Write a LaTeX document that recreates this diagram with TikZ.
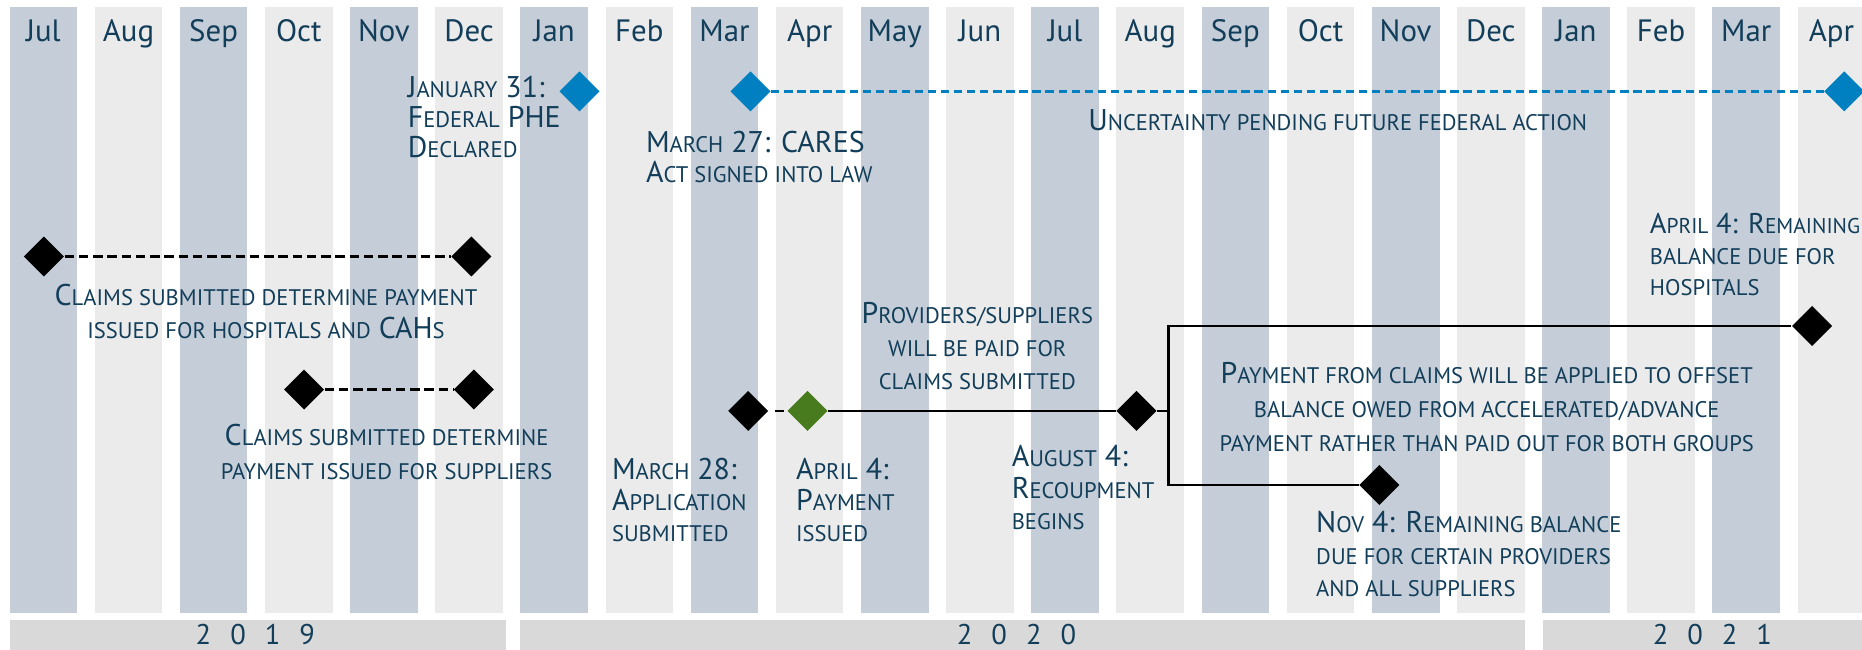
\documentclass[tikz,border=0pt]{standalone}
\usepackage{fontspec}
\setmainfont{PT Sans}
\usetikzlibrary{shapes.geometric}
\definecolor{txt}{RGB}{18,62,90}
\definecolor{colA}{RGB}{197,206,216}
\definecolor{colB}{RGB}{235,235,235}
\definecolor{yearbar}{RGB}{217,217,217}
\definecolor{bluedia}{RGB}{0,128,192}
\definecolor{greendia}{RGB}{72,122,30}
\newcommand\smc[1]{{\fontsize{9.5}{10}\selectfont\uppercase{#1}}}
\newcommand\smcb[1]{{\fontsize{9}{10}\selectfont\uppercase{#1}}}
\begin{document}
\begin{tikzpicture}[x=0.5pt,y=-0.5pt,
  dia/.style={diamond, aspect=1, minimum width=17pt, minimum height=17pt, inner sep=0pt, draw=none},
  bdia/.style={dia, fill=black},
  bldia/.style={dia, fill=bluedia},
  grdia/.style={dia, fill=greendia},
  lbl/.style={text=txt, inner sep=0pt, font=\fontsize{12.6}{13}\selectfont},
  month/.style={text=txt, inner sep=0pt, font=\fontsize{13}{15}\selectfont, anchor=base},
  yearlbl/.style={text=txt, inner sep=0pt, font=\fontsize{12}{14}\selectfont, anchor=base},
  bluedash/.style={draw=bluedia, line width=1pt, dash pattern=on 3.5pt off 2pt},
  blackdash/.style={draw=black, line width=0.9pt, dash pattern=on 4pt off 2pt},
  solidline/.style={draw=black, line width=0.9pt},
]
\useasboundingbox (0,0) rectangle (1568,547);
% month columns
\foreach \m [count=\i from 0] in {Jul,Aug,Sep,Oct,Nov,Dec,Jan,Feb,Mar,Apr,May,Jun,Jul,Aug,Sep,Oct,Nov,Dec,Jan,Feb,Mar,Apr} {
  \pgfmathsetmacro\xl{8+71.7*\i}
  \ifodd\i \def\cc{colB}\else\def\cc{colA}\fi
  \fill[\cc] (\xl,6) rectangle ++(57,510);
  \node[month] (m\i) at (\xl+28.5,35) {\m};
}
% year bars
\fill[yearbar] (8,522) rectangle (426,552);
\fill[yearbar] (438,522) rectangle (1284,552);
\fill[yearbar] (1299,522) rectangle (1572,552);
\node[yearlbl] (y2019) at (215,543) {2\hspace{8pt}0\hspace{8pt}1\hspace{8pt}9};
\node[yearlbl] (y2020) at (856,543) {2\hspace{8pt}0\hspace{8pt}2\hspace{8pt}0};
\node[yearlbl] (y2021) at (1442,543) {2\hspace{8pt}0\hspace{8pt}2\hspace{8pt}1};

% blue row
\node[bldia] (jan31) at (488,77) {};
\node[bldia] (mar27) at (632,77) {};
\node[bldia] (apr21a) at (1553,77) {};
\draw[bluedash] (mar27.east) -- (apr21a.west);
\node[lbl, anchor=base west, align=left, font=\fontsize{12.6}{12.8}\selectfont] (jan31lbl) at (343,133) {J\smc{anuary} 31:\\F\smc{ederal} PHE\\D\smc{eclared}};
\node[lbl, anchor=base west, align=left] (mar27lbl) at (543.6,154) {M\smc{arch} 27: CARES\\A\smc{ct signed into law}};
\node[lbl, anchor=base] (uncert) at (1126.5,110) {U\smc{ncertainty pending future federal action}};

% hospitals dashed row
\node[bdia] (h1) at (37,216) {};
\node[bdia] (h2) at (397,216) {};
\draw[blackdash] (h1.east) -- (h2.west);
\node[lbl, anchor=base, align=center, font=\fontsize{12.6}{14}\selectfont] (hosplbl) at (224,285) {C\smc{laims submitted determine payment}\\\smc{issued for hospitals and} CAH\smc{s}};

% suppliers dashed row
\node[bdia] (s1) at (256,328) {};
\node[bdia] (s2) at (399,328) {};
\draw[blackdash] (s1.east) -- (s2.west);
\node[lbl, anchor=base, align=center, font=\fontsize{12.6}{14.5}\selectfont] (supplbl) at (325.5,404) {C\smc{laims submitted determine}\\\smc{payment issued for suppliers}};

% payment row
\node[bdia] (mar28) at (630,346) {};
\node[grdia] (apr4) at (680,346) {};
\node[bdia] (aug4) at (957,346) {};
\draw[draw=black, line width=0.9pt, dash pattern=on 0pt off 2.5pt on 4pt off 20pt] (mar28.east) -- (apr4.west);
\draw[solidline] (apr4.east) -- (aug4.west);
\node[bdia] (apr21b) at (1526,274.5) {};
\node[bdia] (nov4) at (1161.6,408.4) {};
\coordinate (brM) at (984,346);
\draw[solidline] (aug4.east) -- (brM);
\draw[solidline] (apr21b.west) -| (brM) |- (nov4.west);

\node[lbl, anchor=base, align=center, font=\fontsize{12.6}{14}\selectfont] (provlbl) at (823,328) {P\smc{roviders/suppliers}\\\smc{will be paid for}\\\smc{claims submitted}};
\node[lbl, anchor=base west, align=left] (mar28lbl) at (515,456) {M\smc{arch} 28:\\A\smc{pplication}\\\smc{submitted}};
\node[lbl, anchor=base west, align=left] (apr4lbl) at (670,456) {A\smc{pril} 4:\\P\smc{ayment}\\\smc{issued}};
\node[lbl, anchor=base west, align=left, font=\fontsize{12.6}{13.3}\selectfont] (aug4lbl) at (851.6,446.3) {A\smc{ugust} 4:\\R\smc{ecoupment}\\\smc{begins}};
\node[lbl, anchor=base west, align=left, font=\fontsize{12}{13}\selectfont] (apr21lbl) at (1389,249) {A\smcb{pril} 4: R\smcb{emaining}\\\smc{balance due for}\\\smc{hospitals}};
\node[lbl, anchor=base, align=center, font=\fontsize{12.6}{14.25}\selectfont] (offsetlbl) at (1252,380) {P\smc{ayment from claims will be applied to offset}\\\smc{balance owed from accelerated/advance}\\\smc{payment rather than paid out for both groups}};
\node[lbl, anchor=base west, align=left, font=\fontsize{12.6}{13.5}\selectfont] (nov4lbl) at (1108,502.5) {N\smc{ov} 4: R\smc{emaining balance}\\\smc{due for certain providers}\\\smc{and all suppliers}};
\end{tikzpicture}
\end{document}
